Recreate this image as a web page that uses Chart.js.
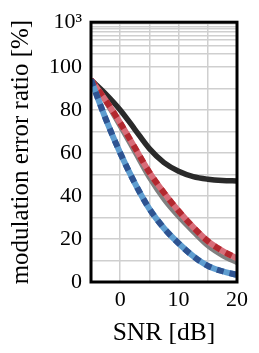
<!DOCTYPE html>
<html>
<head>
<meta charset="utf-8">
<script src="https://cdn.jsdelivr.net/npm/chart.js@4/dist/chart.umd.min.js"></script>
<style>
    html, body { margin: 0; padding: 0; background: #fff; }
    #wrap { width: 259px; height: 353px; }
</style>
</head>
<body>
<div id="wrap"><canvas id="merChart" width="259" height="353"></canvas></div>
<script>
// SNR grid (dB)
const snr = [-5, -2.5, 0, 2.5, 5, 7.5, 10, 12.5, 15, 17.5, 20];
// modulation error ratio [%] per curve
const merBlack = [94, 87.5, 80, 71, 62, 55.5, 51.5, 49, 47.8, 47.2, 47];
const merRed   = [94, 84.5, 74, 62.5, 51, 41.5, 33, 25.5, 19, 14.5, 11];
const merGray  = [94, 83.5, 72, 60, 48, 38, 30, 23, 16.5, 12, 8.7];
const merBlue  = [94, 76, 60, 46, 34, 25, 18, 12, 7.5, 5, 3.3];

// tick labels
const xTickLabels = [0, 10, 20];
const yLinearGrid = [0, 10, 20, 30, 40, 50, 60, 70, 80, 90, 100];
const yTickLabels = [0, 20, 40, 60, 80, 100];
const logGrid = [200, 300, 400, 500, 600, 700, 800, 900, 1000];
const topLabel = '10³';

// the 100..1000 decade is squeezed on top of the linear part
const decadeSpan = 20.8;
function decadePos(p) {
    return 100 + decadeSpan * Math.log10(p / 100);
}

function series(values) {
    return snr.map((x, i) => ({ x: x, y: values[i] }));
}

const serif = "'Liberation Serif', 'DejaVu Serif', serif";

// thick black frame round the plot
const framePlugin = {
    id: 'frame',
    afterDraw(chart) {
        const a = chart.chartArea;
        const ctx = chart.ctx;
        ctx.save();
        ctx.strokeStyle = '#000';
        ctx.lineWidth = 3;
        ctx.strokeRect(a.left, a.top, a.right - a.left, a.bottom - a.top);
        ctx.restore();
    }
};

const lineBase = {
    pointRadius: 0,
    fill: false,
    cubicInterpolationMode: 'monotone',
    borderCapStyle: 'butt'
};

new Chart(document.getElementById('merChart'), {
    type: 'line',
    data: {
        datasets: [
            Object.assign({}, lineBase, { data: series(merBlue), borderColor: '#2e5391', borderWidth: 6, borderDash: [7, 6], order: 0 }),
            Object.assign({}, lineBase, { data: series(merBlue), borderColor: '#5e9dd0', borderWidth: 6, order: 1 }),
            Object.assign({}, lineBase, { data: series(merRed), borderColor: '#b3282f', borderWidth: 6, borderDash: [7, 6], order: 2 }),
            Object.assign({}, lineBase, { data: series(merRed), borderColor: '#d86c78', borderWidth: 6, order: 3 }),
            Object.assign({}, lineBase, { data: series(merGray), borderColor: '#808080', borderWidth: 4, order: 4 }),
            Object.assign({}, lineBase, { data: series(merBlack), borderColor: '#2a2a2a', borderWidth: 5.5, order: 5 })
        ]
    },
    options: {
        responsive: false,
        animation: false,
        devicePixelRatio: 1,
        layout: {
            padding: { left: 6, top: 17, right: 22, bottom: 0 }
        },
        plugins: {
            legend: { display: false },
            tooltip: { enabled: false }
        },
        scales: {
            x: {
                type: 'linear',
                min: -5,
                max: 20,
                afterBuildTicks: function(scale) {
                    scale.ticks = [-5, 0, 5, 10, 15, 20].map(v => ({ value: v }));
                },
                afterFit: function(scale) { scale.height = 71; },
                ticks: {
                    autoSkip: false,
                    maxRotation: 0,
                    padding: 5,
                    color: '#000',
                    font: { family: serif, size: 22 },
                    callback: function(v) {
                        return xTickLabels.includes(v) ? String(v) : '';
                    }
                },
                grid: { color: '#cfcfcf', lineWidth: 1.5, drawTicks: false },
                border: { display: false },
                title: {
                    display: true,
                    text: 'SNR [dB]',
                    color: '#000',
                    font: { family: serif, size: 25.5 },
                    padding: { top: 5 }
                }
            },
            y: {
                type: 'linear',
                min: 0,
                max: 100 + decadeSpan,
                afterBuildTicks: function(scale) {
                    const vals = yLinearGrid.concat(logGrid.map(decadePos));
                    scale.ticks = vals.map(v => ({ value: v }));
                },
                afterFit: function(scale) { scale.width = 85; },
                ticks: {
                    autoSkip: false,
                    padding: 9,
                    color: '#000',
                    font: { family: serif, size: 22 },
                    callback: function(v) {
                        if (Math.abs(v - decadePos(1000)) < 1e-6) return topLabel;
                        return yTickLabels.includes(v) ? String(v) : '';
                    }
                },
                grid: { color: '#cfcfcf', lineWidth: 1.5, drawTicks: false },
                border: { display: false },
                title: {
                    display: true,
                    text: 'modulation error ratio [%]',
                    color: '#000',
                    font: { family: serif, size: 25 },
                    padding: { top: 0, bottom: 0 }
                }
            }
        }
    },
    plugins: [framePlugin]
});
</script>
</body>
</html>
